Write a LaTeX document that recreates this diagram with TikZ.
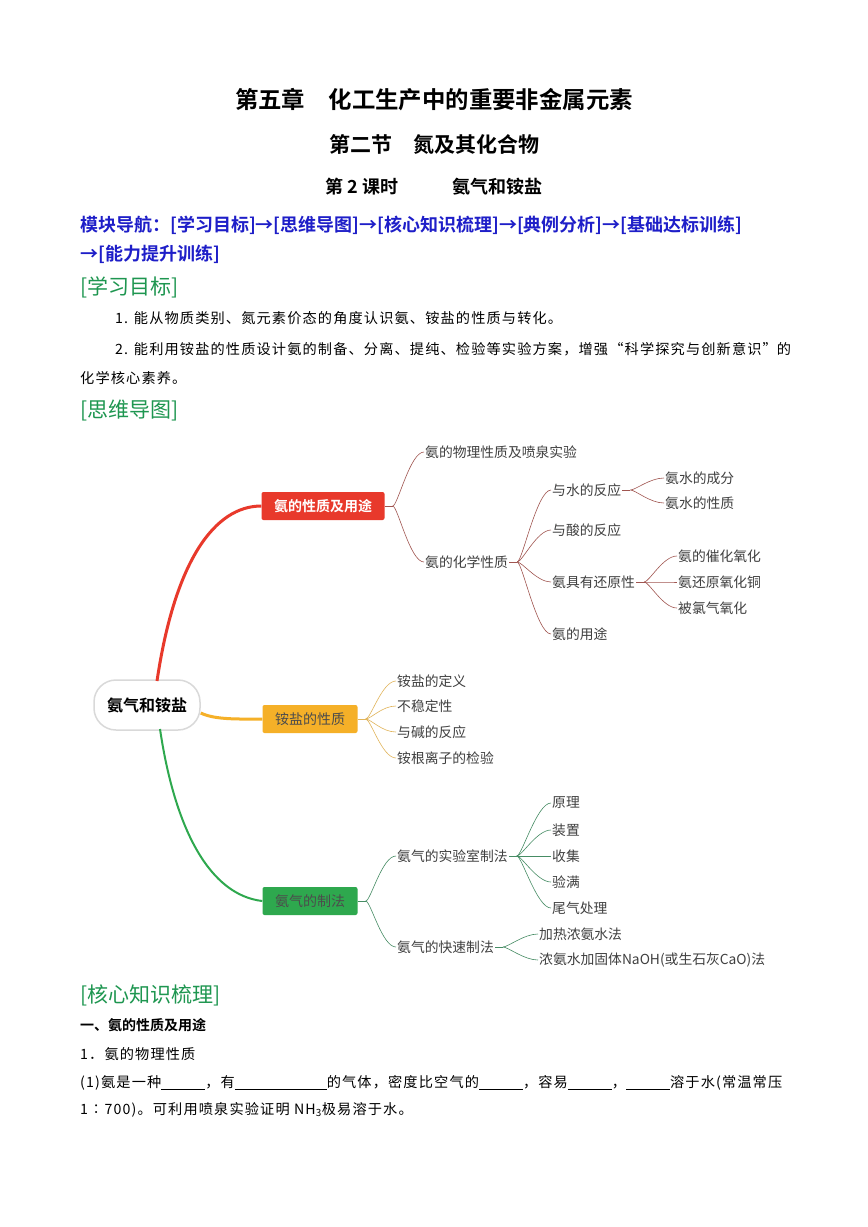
\documentclass[tikz,border=0pt]{standalone}
\usepackage{fontspec}
\setmainfont{Liberation Serif}
\newfontfamily\cjk{Noto Sans CJK SC}
\newfontfamily\cjkl[LetterSpace=8]{Noto Sans CJK SC}
\newfontfamily\cjkb{Noto Sans CJK SC Bold}
\usetikzlibrary{positioning,calc}
\definecolor{navblue}{RGB}{30,30,200}
\definecolor{headgreen}{RGB}{30,150,80}
\definecolor{mred}{RGB}{232,57,43}
\definecolor{morange}{RGB}{245,176,40}
\definecolor{mgreen}{RGB}{46,168,78}
\definecolor{lred}{RGB}{160,85,80}
\definecolor{lorange}{RGB}{225,180,90}
\definecolor{lgreen}{RGB}{70,140,100}
\newcommand{\blank}[1]{\rule[-2pt]{#1pt}{0.6pt}}
\newcommand{\fork}[3]{\draw[#3] (#1) .. controls +(5,0) and +(-14,0) .. (#2.west);}
\begin{document}
\begin{tikzpicture}[x=1pt,y=-1pt,
  title/.style={font=\cjkb\fontsize{#1}{#1}\selectfont},
  body/.style={anchor=west,inner sep=0pt,font=\cjkl\fontsize{14.2}{15}\selectfont},
  head/.style={anchor=west,inner sep=0pt,text=headgreen,font=\cjk\fontsize{21}{22}\selectfont},
  nav/.style={anchor=west,inner sep=0pt,text=navblue,font=\cjkb\fontsize{18}{19}\selectfont},
  leaf/.style={anchor=west,inner sep=1pt,text=black!75,font=\cjk\fontsize{13.8}{14}\selectfont},
  topic/.style={minimum height=28pt,inner sep=5pt,rounded corners=2pt,font=\cjk\fontsize{14}{15}\selectfont},
  lr/.style={lred,line width=0.6pt},
  lo/.style={lorange,line width=0.6pt},
  lg/.style={lgreen,line width=0.6pt}]
\useasboundingbox[fill=white] (0,0) rectangle (868,1227);

% page heading
\node[title=23.4] (t1) at (434,100) {第五章\quad 化工生产中的重要非金属元素};
\node[title=21] (t2) at (434,144) {第二节\quad 氮及其化合物};
\node[title=18] (t3) at (434,187) {第 2 课时\qquad\quad 氨气和铵盐};
\node[nav] (nav1) at (80,225) {模块导航：[学习目标]→[思维导图]→[核心知识梳理]→[典例分析]→[基础达标训练]};
\node[nav] (nav2) at (80,254) {→[能力提升训练]};
\node[head] (h1) at (80,287) {[学习目标]};
\node[body] (g1) at (115,318) {1. 能从物质类别、氮元素价态的角度认识氨、铵盐的性质与转化。};
\node[body] (g2) at (115,349) {\makebox[670pt][l]{2. 能利用铵盐的性质设计氨的制备、分离、提纯、检验等实验方案，增强“科学探究与创新意识”\hfill 的}};
\node[body] (g3) at (80,378) {化学核心素养。};
\node[head] (h2) at (80,410) {[思维导图]};

% mind map
\node[draw=black!15,line width=1.5pt,fill=white,rounded corners=22pt,minimum width=106pt,minimum height=50pt,
  font=\cjkb\fontsize{16}{17}\selectfont] (root) at (147,705) {氨气和铵盐};
\node[topic,fill=mred,text=white,font=\cjkb\fontsize{14}{15}\selectfont,minimum width=123pt] (nh3) at (323,506) {氨的性质及用途};
\node[topic,fill=morange,text=black!70,minimum width=95pt] (salt) at (310,719) {铵盐的性质};
\node[topic,fill=mgreen,text=black!70,minimum width=95pt] (prep) at (310,901) {氨气的制法};
\draw[mred,line width=3pt] (157,681) .. controls (175,560) and (215,506) .. (nh3.west);
\draw[morange,line width=3pt] (root.east) ++(0,8) .. controls (215,720) and (240,719) .. (salt.west);
\draw[mgreen,line width=2pt] (160,729) .. controls (175,830) and (210,895) .. (prep.west);

% red branch
\node[leaf] (phys) at (424,452) {氨的物理性质及喷泉实验};
\node[leaf] (chem) at (424,562) {氨的化学性质};
\node[leaf] (water) at (551,490) {与水的反应};
\node[leaf] (acid) at (551,530) {与酸的反应};
\node[leaf] (redu) at (551,582) {氨具有还原性};
\node[leaf] (use) at (551,634) {氨的用途};
\node[leaf] (w1) at (664,478) {氨水的成分};
\node[leaf] (w2) at (664,503) {氨水的性质};
\node[leaf] (r1) at (677,556) {氨的催化氧化};
\node[leaf] (r2) at (677,582) {氨还原氧化铜};
\node[leaf] (r3) at (677,608) {被氯气氧化};
\draw[lr] (nh3.east) -- ++(8,0) coordinate (fa);
\draw[lr] (chem.east) -- ++(8,0) coordinate (fb);
\draw[lr] (water.east) -- ++(8,0) coordinate (fc);
\draw[lr] (redu.east) -- ++(8,0) coordinate (fd);
\foreach \c in {phys,chem} {\fork{fa}{\c}{lr}}
\foreach \c in {water,acid,redu,use} {\fork{fb}{\c}{lr}}
\foreach \c in {w1,w2} {\fork{fc}{\c}{lr}}
\foreach \c in {r1,r2,r3} {\fork{fd}{\c}{lr}}

% orange branch
\node[leaf] (s1) at (396,681) {铵盐的定义};
\node[leaf] (s2) at (396,706) {不稳定性};
\node[leaf] (s3) at (396,732) {与碱的反应};
\node[leaf] (s4) at (396,758) {铵根离子的检验};
\draw[lo] (salt.east) -- ++(8,0) coordinate (fe);
\foreach \c in {s1,s2,s3,s4} {\fork{fe}{\c}{lo}}

% green branch
\node[leaf] (lab) at (396,856) {氨气的实验室制法};
\node[leaf] (fast) at (396,947) {氨气的快速制法};
\node[leaf] (p1) at (551,803) {原理};
\node[leaf] (p2) at (551,830) {装置};
\node[leaf] (p3) at (551,856) {收集};
\node[leaf] (p4) at (551,882) {验满};
\node[leaf] (p5) at (551,908) {尾气处理};
\node[leaf] (q1) at (538,934) {加热浓氨水法};
\node[leaf] (q2) at (538,960) {浓氨水加固体NaOH(或生石灰CaO)法};
\draw[lg] (prep.east) -- ++(8,0) coordinate (ff);
\draw[lg] (lab.east) -- ++(8,0) coordinate (fg);
\draw[lg] (fast.east) -- ++(8,0) coordinate (fh);
\foreach \c in {lab,fast} {\fork{ff}{\c}{lg}}
\foreach \c in {p1,p2,p3,p4,p5} {\fork{fg}{\c}{lg}}
\foreach \c in {q1,q2} {\fork{fh}{\c}{lg}}

% knowledge section
\node[head] (h3) at (80,995) {[核心知识梳理]};
\node[body,font=\cjkb\fontsize{14}{15}\selectfont] (k1) at (80,1025) {一、氨的性质及用途};
\node[body] (k2) at (80,1054) {1．氨的物理性质};
\node[body] (k3) at (80,1083) {(1)氨是一种\blank{44}，有\blank{92}的气体，密度比空气的\blank{44}，容易\blank{44}，\blank{44}溶于水(常温常压};
\node[body] (k4) at (80,1110) {1∶700)。可利用喷泉实验证明 NH\textsubscript{3}极易溶于水。};
\end{tikzpicture}
\end{document}
